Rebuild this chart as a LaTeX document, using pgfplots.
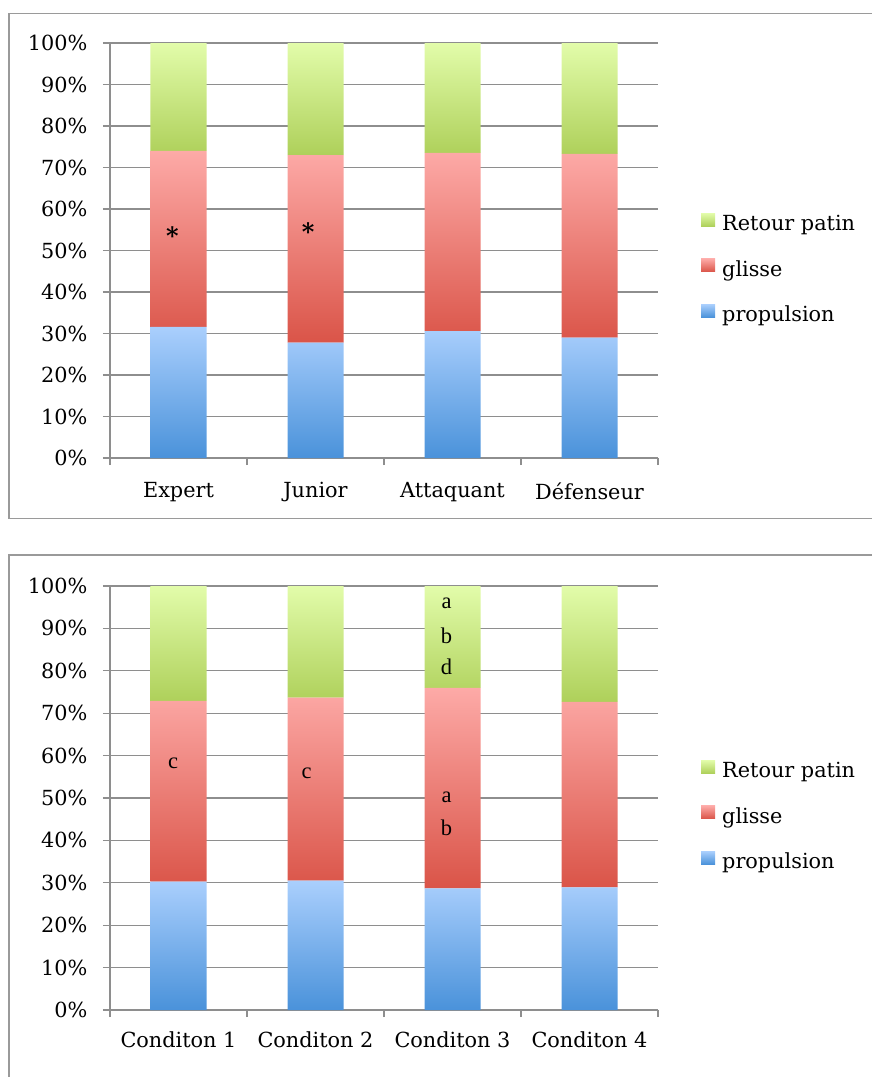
\documentclass[border=0pt]{standalone}
\usepackage{fontspec}
\setmainfont{DejaVu Serif}
\newfontfamily\annfont{Liberation Serif}
\usepackage{pgfplots}
\pgfplotsset{compat=1.18}
\definecolor{gT}{HTML}{E2FCAA}
\definecolor{gB}{HTML}{AED05A}
\definecolor{rT}{HTML}{FDAAA7}
\definecolor{rB}{HTML}{DA5448}
\definecolor{bT}{HTML}{AACFFD}
\definecolor{bB}{HTML}{4A92DA}
\definecolor{gridgrey}{HTML}{8E8E8E}
\definecolor{framegrey}{HTML}{9A9A9A}
\newcommand{\lblfont}{\fontsize{20.8}{24}\selectfont}
\newcommand{\annf}{\annfont\fontsize{22.5}{24}\selectfont}
\newcommand{\starf}{\bfseries\fontsize{24}{26}\selectfont}
\pgfplotsset{
  skate/.style={
    scale only axis, width=548pt,
    xmin=0, xmax=4, ymin=0, ymax=100,
    ybar stacked, bar width=56pt,
    axis x line*=bottom, axis y line*=left,
    axis line style={draw=gridgrey, line width=1.3pt},
    ymajorgrids, major grid style={draw=gridgrey, line width=1.3pt},
    ytick={0,10,...,100},
    yticklabels={0\%,10\%,20\%,30\%,40\%,50\%,60\%,70\%,80\%,90\%,100\%},
    xtick={0.5,1.5,2.5,3.5},
    minor xtick={0,1,2,3,4},
    major x tick style={draw=none},
    minor x tick style={draw=gridgrey, line width=1.3pt},
    y tick style={draw=gridgrey, line width=1.3pt},
    tick align=outside, major tick length=7pt, minor tick length=7pt,
    ticklabel style={font=\lblfont},
    yticklabel style={xshift=-12pt},
    reverse legend,
    legend cell align=left,
    legend style={draw=none, fill=none, font=\lblfont,
      at={(1,0.5)}, anchor=west, xshift=40pt,
      row sep=23pt,
      nodes={inner sep=0pt, text height=15pt, text depth=5pt}},
    legend image code/.code={\path[##1, draw=none] (0pt,-0.5pt) rectangle (14pt,12.5pt);},
    /tikz/every odd column/.append style={column sep=7pt},
  },
  pro/.style={draw=none, top color=bT, bottom color=bB},
  gli/.style={draw=none, top color=rT, bottom color=rB},
  ret/.style={draw=none, top color=gT, bottom color=gB},
}
\begin{document}
\begin{tikzpicture}[x=1pt,y=1pt]
\path[use as bounding box] (0,0) rectangle (871,-1077);
\draw[framegrey, line width=1.5pt] (9,-13.3) rectangle (880,-518.3);
\draw[framegrey, line width=1.5pt] (9,-555) rectangle (880,-1090);
\begin{axis}[skate, at={(110pt,-458pt)}, anchor=origin, height=415pt,
  xticklabels={Expert,Junior,Attaquant,Défenseur},
  xticklabel style={yshift=-14pt},
  legend style={yshift=-19.5pt}]
\addplot[pro] coordinates {(0.5,31.6) (1.5,27.8) (2.5,30.6) (3.5,29.0)};
\addplot[gli] coordinates {(0.5,42.4) (1.5,45.2) (2.5,42.9) (3.5,44.3)};
\addplot[ret] coordinates {(0.5,26.0) (1.5,27.0) (2.5,26.5) (3.5,26.7)};
\legend{propulsion,glisse,Retour patin}
\coordinate (s1) at (axis cs:0.455,53.5);
\coordinate (s2) at (axis cs:1.447,54.5);
\end{axis}
\node[font=\starf] at (s1) {*};
\node[font=\starf] at (s2) {*};
\begin{axis}[skate, at={(110pt,-1010pt)}, anchor=origin, height=424pt,
  xticklabels={Conditon 1,Conditon 2,Conditon 3,Conditon 4},
  xticklabel style={yshift=-11pt},
  legend style={yshift=-19pt}]
\addplot[pro] coordinates {(0.5,30.3) (1.5,30.5) (2.5,28.7) (3.5,28.9)};
\addplot[gli] coordinates {(0.5,42.6) (1.5,43.2) (2.5,47.3) (3.5,43.8)};
\addplot[ret] coordinates {(0.5,27.1) (1.5,26.3) (2.5,24.0) (3.5,27.3)};
\legend{propulsion,glisse,Retour patin}
\coordinate (c1) at (axis cs:0.46,58.2);
\coordinate (c2) at (axis cs:1.436,55.9);
\coordinate (a1) at (axis cs:2.457,95.9);
\coordinate (b1) at (axis cs:2.457,88.3);
\coordinate (d1) at (axis cs:2.457,81.0);
\coordinate (a2) at (axis cs:2.457,50.2);
\coordinate (b2) at (axis cs:2.457,42.9);
\end{axis}
\foreach \p/\t in {c1/c,c2/c,a1/a,b1/b,d1/d,a2/a,b2/b}
  \node[font=\annf] at (\p) {\t};
\end{tikzpicture}
\end{document}
